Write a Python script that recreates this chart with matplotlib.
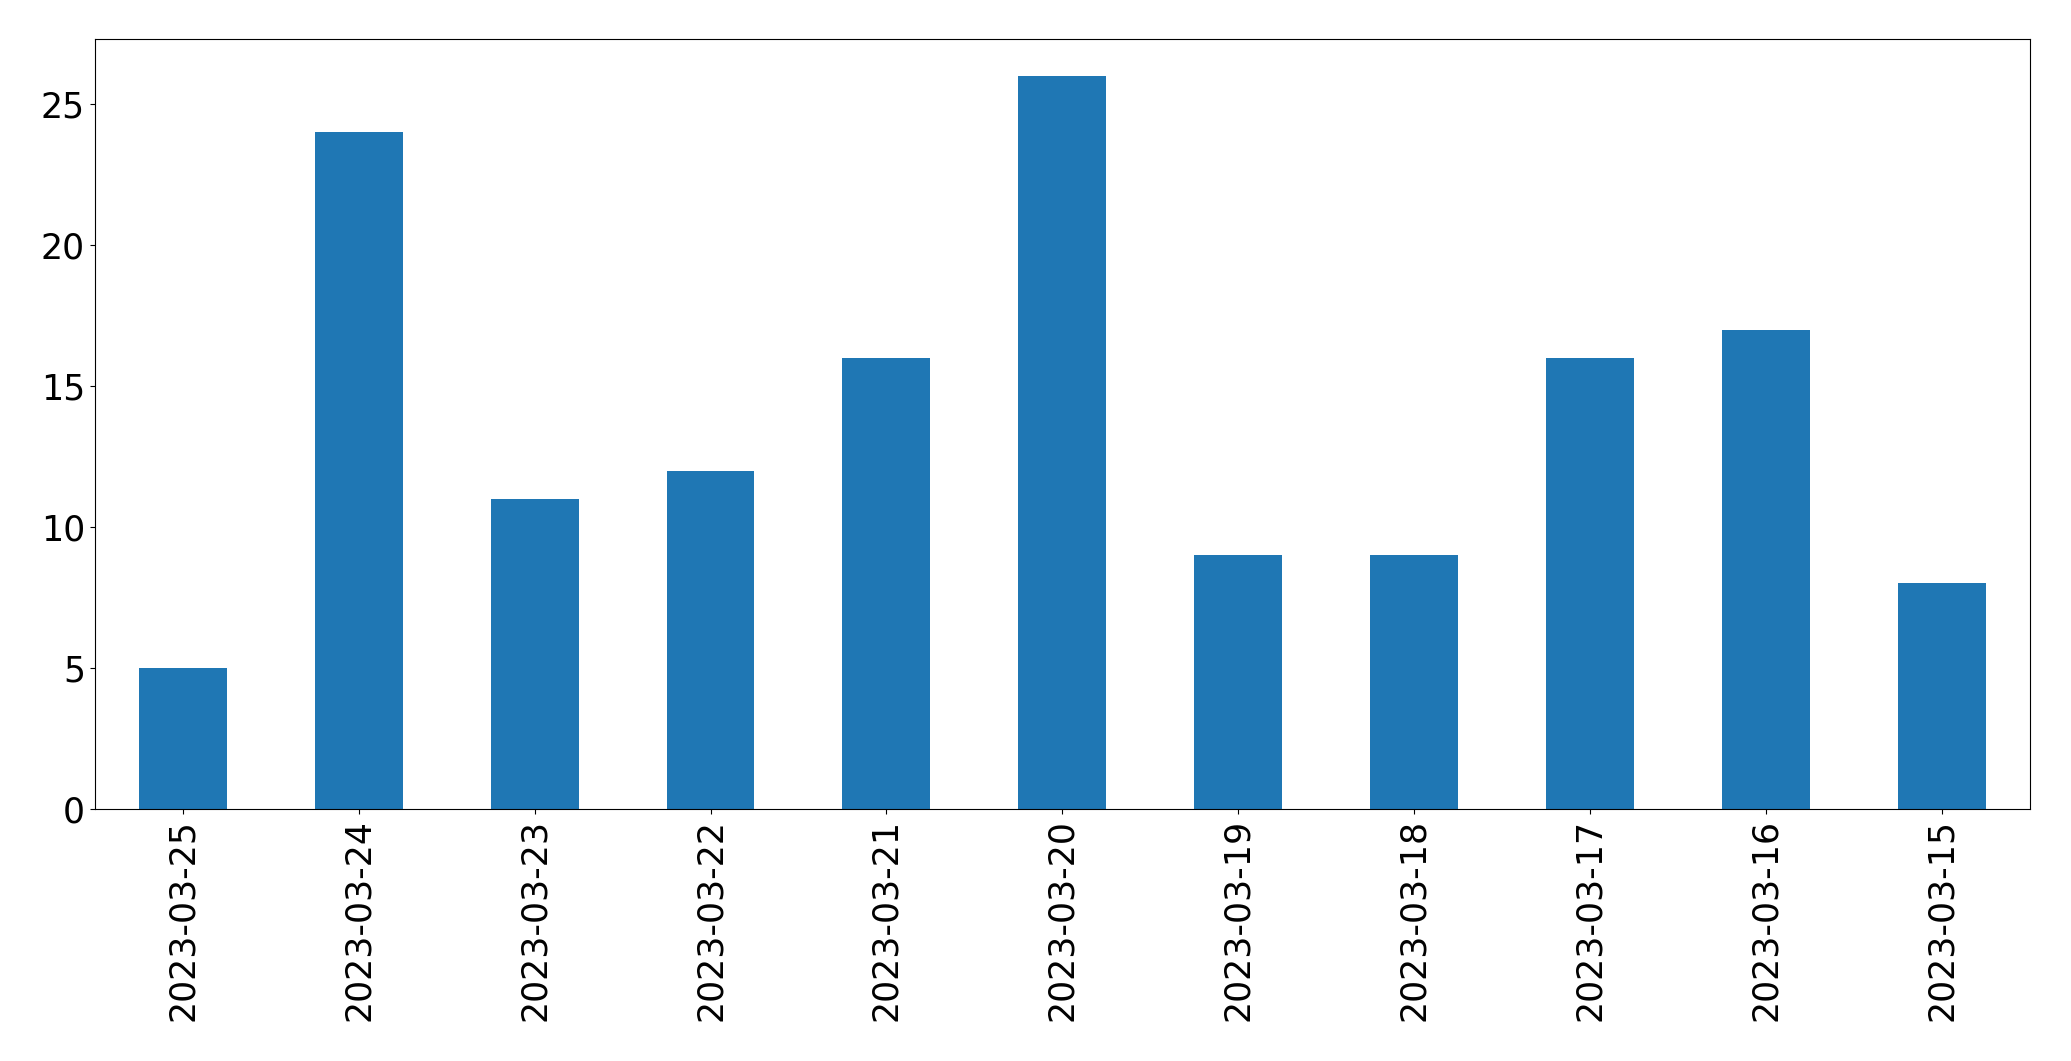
import matplotlib
matplotlib.use("Agg")
import matplotlib.pyplot as plt
import pandas as pd

dates = ["2023-03-25", "2023-03-24", "2023-03-23", "2023-03-22", "2023-03-21",
         "2023-03-20", "2023-03-19", "2023-03-18", "2023-03-17", "2023-03-16",
         "2023-03-15"]
counts = [5, 24, 11, 12, 16, 26, 9, 9, 16, 17, 8]

s = pd.Series(counts, index=dates)

fig = plt.figure(figsize=(20.71, 10.61), dpi=100)
ax = fig.add_axes([0.0457, 0.2375, 0.9803 - 0.0457, 0.963 - 0.2375])
s.plot(kind="bar", ax=ax, color="#1f77b4")
ax.tick_params(axis="both", labelsize=25)
ax.set_xlabel("")
fig.savefig("out.png", dpi=100)
